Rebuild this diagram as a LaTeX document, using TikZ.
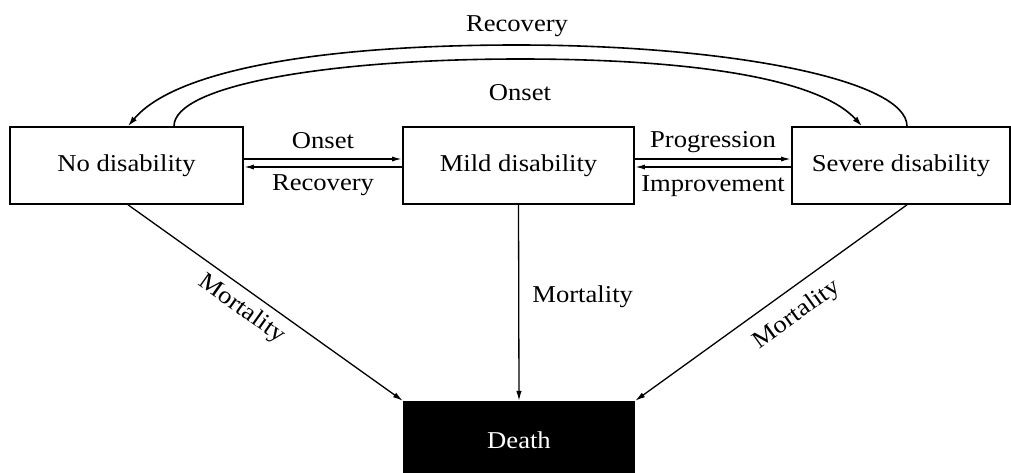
\documentclass[tikz,border=0pt]{standalone}
\usepackage{fontspec}
\setmainfont{Liberation Serif}[FakeStretch=1.1]
\usetikzlibrary{arrows.meta}
\newcommand{\dfont}{\fontsize{24.2}{29}\selectfont}
\begin{document}
\begin{tikzpicture}[x=1pt,y=-1pt,
  statebox/.style={draw, line width=1.6pt, inner sep=0pt, minimum height=77pt, font=\dfont},
  lbl/.style={inner sep=0pt, text height=16pt, text depth=5pt, font=\dfont},
  arr/.style={-{Latex[length=10pt,width=5.5pt]}, line width=1.3pt},
  harr/.style={-{Latex[length=10pt,width=5pt]}, line width=1.6pt},
  arcarr/.style={-{Latex[length=10pt,width=6pt]}, line width=1.6pt}]
\useasboundingbox (0,0) rectangle (1011,472);
\node[statebox, minimum width=233pt] (nd) at (126.5,165.5) {No disability};
\node[statebox, minimum width=231pt] (md) at (518.5,165.5) {Mild disability};
\node[statebox, minimum width=218pt] (sd) at (901,165.5) {Severe disability};
\node[fill=black, text=white, inner sep=0pt, minimum width=232pt, minimum height=79pt, font=\dfont] (dt) at (519,440.5) {Death};
% horizontal transitions
\draw[harr] ([yshift=6.5pt]nd.east) -- node[lbl, midway, above=5pt] {Onset} ([yshift=6.5pt]md.west);
\draw[harr] ([yshift=-1.5pt]md.west) -- node[lbl, midway, below=7pt] {Recovery} ([yshift=-1.5pt]nd.east);
\draw[harr] ([yshift=6.5pt]md.east) -- node[lbl, midway, above=6pt] {Progression} ([yshift=6.5pt]sd.west);
\draw[harr] ([yshift=-1.5pt]sd.west) -- node[lbl, midway, below=8pt] {Improvement} ([yshift=-1.5pt]md.east);
% arcs
\draw[arcarr] ([xshift=6pt]sd.north) .. controls (907,80) and (730,45) .. (517,45)
  node[lbl, above=8pt] {Recovery}
  .. controls (320,45) and (175,70) .. ([xshift=1.5pt]nd.north);
\draw[arcarr] ([xshift=47.5pt]nd.north) .. controls (174,85) and (330,59) .. (520,59)
  node[lbl, below=25pt] {Onset}
  .. controls (700,59) and (820,80) .. ([xshift=-39pt]sd.north);
% mortality
\draw[arr] ([xshift=1.5pt]nd.south) -- node[lbl, pos=0.454, sloped, below=8pt] {Mortality} (dt.north west);
\draw[arr] (md.south) -- node[lbl, pos=0.47, right=13pt] {Mortality} (dt.north);
\draw[arr] ([xshift=6pt]sd.south) -- node[lbl, pos=0.459, sloped, below=14pt] {Mortality} (dt.north east);
\end{tikzpicture}
\end{document}
